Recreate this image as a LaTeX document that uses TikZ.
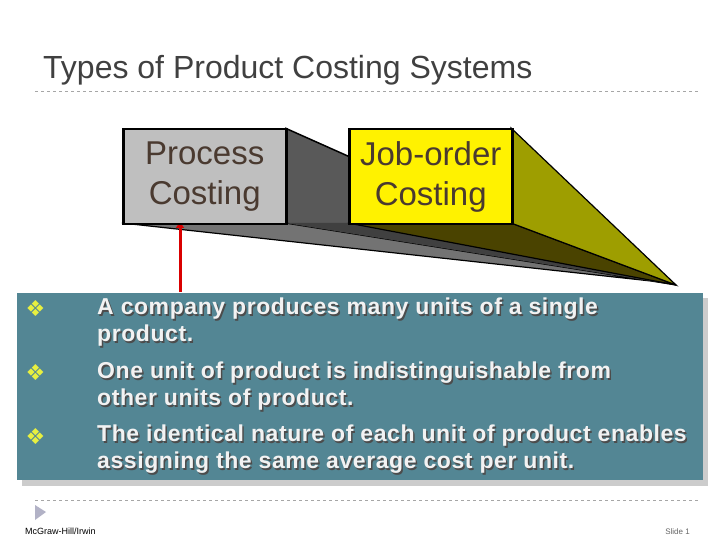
\documentclass[tikz,border=0pt]{standalone}
\usepackage{fontspec}
\setmainfont{Liberation Sans}
\newfontfamily\dejavu{DejaVu Sans}
\newfontfamily\spaced[LetterSpace=2.5]{Liberation Sans}
\usetikzlibrary{arrows.meta}
\definecolor{panel}{HTML}{538694}
\definecolor{olive}{HTML}{9E9E00}
\definecolor{darkolive}{HTML}{4A4300}
\definecolor{boxtxt}{HTML}{4A3A30}
\definecolor{bulcol}{HTML}{E8F040}
\tikzset{
  facebox/.style={draw=black,line width=2.5pt,minimum width=163pt,minimum height=95pt,align=center,font=\fontsize{33}{40}\selectfont,text=boxtxt,anchor=north west,inner sep=0pt},
  bul/.style={text=bulcol,font=\dejavu\fontsize{22}{22}\selectfont,anchor=west},
  btxt/.style={text=white!95!black,font=\spaced\bfseries\fontsize{23}{27}\selectfont,align=left,anchor=north west,inner sep=0pt},
}
\begin{document}
\begin{tikzpicture}[x=1pt,y=-1pt]
\useasboundingbox (0,0) rectangle (720,540);
\fill[white] (0,0) rectangle (720,540);
\node[anchor=base west,text=black!75,font=\fontsize{32}{34}\selectfont,inner sep=0pt] (title) at (43,79) {Types of Product Costing Systems};
\draw[black!35,dashed] (35,91) -- (700,91);
% extrusions
\coordinate (vp) at (676,285);
\fill[black!65] (285,128) -- (350,157) -- (350,223) -- (285,223) -- cycle;
\draw[black,line width=1.5pt] (285,128) -- (350,157);
\fill[black!55,draw=black,line width=1.2pt] (122,223) -- (285,223) -- (vp) -- (660,282) -- cycle;
\fill[black!75] (285,223) -- (350,223) -- (vp) -- cycle;
\fill[darkolive,draw=black,line width=1.2pt] (348,223) -- (511,223) -- (vp) -- cycle;
\fill[olive,draw=black,line width=1.2pt] (511,128) -- (vp) -- (511,223) -- cycle;
\coordinate (arrbase) at (180,292);
\draw[red!85!black,line width=3pt,-{Triangle[length=6pt,width=8pt]}] (arrbase) -- (180,222);
\node[facebox,fill=black!25] (proc) at (122,128) {Process\\Costing};
\node[facebox,fill=yellow] (job) at (348,128) {Job-order\\Costing};
% panel
\fill[black!20] (22,298) rectangle (708,486);
\fill[panel] (17,293) rectangle (703,480);
\node[bul] (b1) at (22,309) {❖};
\node[bul] (b2) at (22,373) {❖};
\node[bul] (b3) at (22,437) {❖};
\begin{scope}[every node/.append style={btxt}]
\foreach \t/\y [count=\i] in {{A company produces many units of a single\\product.}/298,{One unit of product is indistinguishable from\\other units of product.}/362,{The identical nature of each unit of product enables\\assigning the same average cost per unit.}/425}{
  \node[text=black!70] (s\i) at (98.5,\y+1.5) {\t};
  \node (t\i) at (97,\y) {\t};
}
\end{scope}
% footer
\draw[black!35,dashed] (35,500) -- (700,500);
\fill[blue!25!black!30] (35,505) -- (46,512) -- (35,520) -- cycle;
\node[anchor=base west,font=\fontsize{9}{9}\selectfont,inner sep=0pt] (mh) at (25,534) {McGraw-Hill/Irwin};
\node[anchor=base east,font=\fontsize{8}{8}\selectfont,text=black!60,inner sep=0pt] (sl) at (690,534) {Slide 1};
\end{tikzpicture}
\end{document}
